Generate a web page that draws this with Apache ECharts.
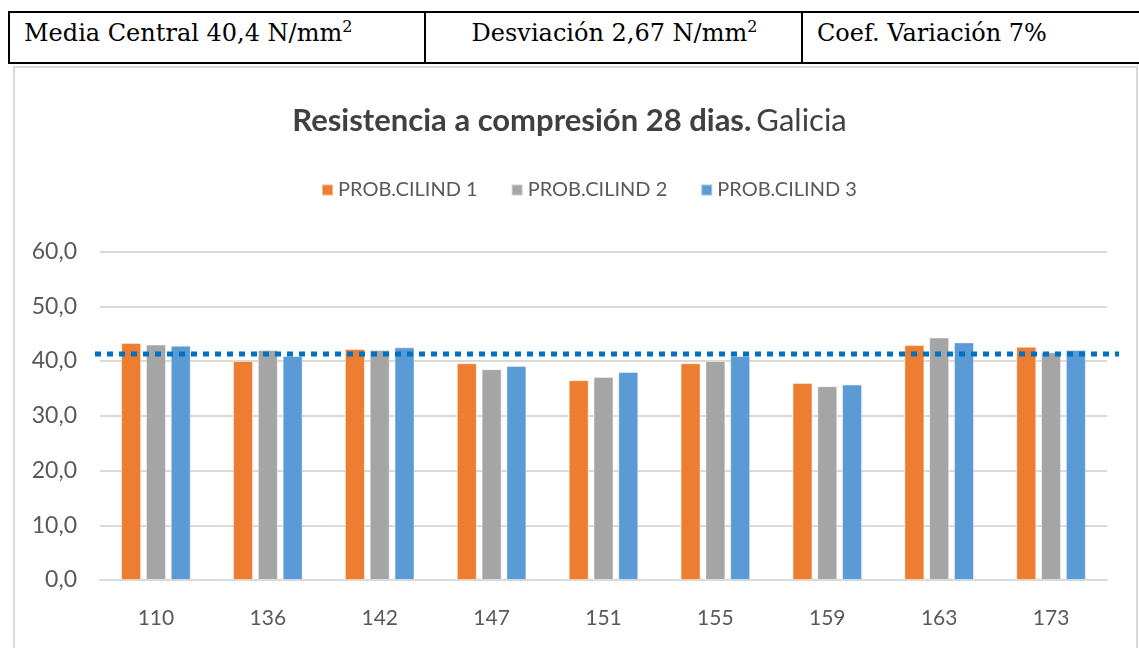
<!DOCTYPE html>
<html>
<head>
<meta charset="utf-8">
<script src="https://cdn.jsdelivr.net/npm/echarts@6/dist/echarts.min.js"></script>
<style>
  body { margin: 0; background: #fff; overflow: hidden; }
  #tabla {
    position: absolute; left: 8px; top: 11px; height: 53px; width: 1200px;
    border: 2px solid #000; box-sizing: border-box;
    font-family: "DejaVu Serif", serif; font-size: 24px; color: #000;
  }
  #tabla div { position: absolute; top: 0; height: 100%; line-height: 41px; white-space: nowrap; }
  #tabla sup { font-size: 16px; line-height: 0; vertical-align: 9px; }
  #c1 { left: 0; width: 414px; padding-left: 14px; box-sizing: border-box; }
  #c2 { left: 414px; width: 377px; text-align: center; border-left: 2px solid #000; }
  #c3 { left: 791px; width: 400px; padding-left: 14px; box-sizing: border-box; border-left: 2px solid #000; }
  #caja {
    position: absolute; left: 13px; top: 66px; width: 1125px; height: 700px;
    border: 2px solid #d9d9d9; box-sizing: border-box;
  }
  #chart { position: absolute; left: 0; top: 0; width: 1139px; height: 648px; }
</style>
</head>
<body>
<div id="caja"></div>
<div id="tabla"><div id="c1"></div><div id="c2"></div><div id="c3"></div></div>
<div id="chart"></div>
<script>
// textos de la tabla superior
const cabecera = ['Media Central 40,4 N/mm<sup>2</sup>', 'Desviación 2,67 N/mm<sup>2</sup>', 'Coef. Variación 7%']

// datos del grafico
const probetas = ['110', '136', '142', '147', '151', '155', '159', '163', '173']
const cilind1 = [43.3, 40.0, 42.2, 39.6, 36.5, 39.6, 36.0, 42.9, 42.6]
const cilind2 = [43.0, 42.0, 42.0, 38.5, 37.1, 40.0, 35.4, 44.3, 41.6]
const cilind3 = [42.8, 40.9, 42.5, 39.1, 38.0, 40.9, 35.7, 43.4, 42.0]
const nombres = ['PROB.CILIND 1', 'PROB.CILIND 2', 'PROB.CILIND 3']
const media = 41.3

document.getElementById('c1').innerHTML = cabecera[0]
document.getElementById('c2').innerHTML = cabecera[1]
document.getElementById('c3').innerHTML = cabecera[2]

const fuente = 'Lato, "Open Sans", sans-serif'
const colores = ['#ED7D31', '#A5A5A5', '#5B9BD5']

function barra(nombre, datos, i) {
    return {
        name: nombre,
        type: 'bar',
        data: datos,
        barWidth: 20,
        barGap: '24%',
        itemStyle: {
            color: colores[i],
            borderColor: 'rgba(255,255,255,0.45)',
            borderWidth: 1
        },
        z: 2
    }
}

const option = {
    animation: false,
    title: {
        text: '{b|Resistencia a compresión 28 dias.} {n|Galicia}',
        left: 'center',
        top: 100,
        textStyle: {
            rich: {
                b: { fontFamily: fuente, fontSize: 31, fontWeight: 'bold', color: '#404040' },
                n: { fontFamily: fuente, fontSize: 31, fontWeight: 'normal', color: '#404040' }
            }
        }
    },
    legend: {
        data: nombres,
        top: 175,
        left: 316,
        itemWidth: 11,
        itemHeight: 11,
        itemGap: 33,
        icon: 'rect',
        textStyle: { fontFamily: fuente, fontSize: 20, color: '#595959' }
    },
    grid: [
        { left: 100, right: 32, top: 251.5, bottom: 68 },
        { left: 95, right: 20, top: 251.5, bottom: 68 }
    ],
    xAxis: [
        {
            type: 'category',
            data: probetas,
            gridIndex: 0,
            axisTick: { show: false },
            axisLine: { lineStyle: { color: '#d9d9d9', width: 2 } },
            axisLabel: { fontFamily: fuente, fontSize: 21, color: '#595959', margin: 28 }
        },
        { type: 'value', gridIndex: 1, min: 0, max: 1, show: false }
    ],
    yAxis: [
        {
            type: 'value',
            gridIndex: 0,
            min: 0,
            max: 60,
            interval: 10,
            axisLine: { show: false },
            axisTick: { show: false },
            splitLine: { lineStyle: { color: '#d9d9d9', width: 2 } },
            axisLabel: {
                fontFamily: fuente, fontSize: 23, color: '#595959', margin: 23,
                formatter: function (v) { return v.toFixed(1).replace('.', ',') }
            }
        },
        { type: 'value', gridIndex: 1, min: 0, max: 60, show: false }
    ],
    series: [
        barra(nombres[0], cilind1, 0),
        barra(nombres[1], cilind2, 1),
        barra(nombres[2], cilind3, 2),
        {
            name: 'Media',
            type: 'line',
            xAxisIndex: 1,
            yAxisIndex: 1,
            data: [[0, media], [1, media]],
            symbol: 'none',
            silent: true,
            lineStyle: { color: '#0070C0', width: 5, type: [6, 6], cap: 'butt' },
            z: 5
        }
    ]
}

const myChart = echarts.init(document.getElementById('chart'))
myChart.setOption(option)
</script>
</body>
</html>
